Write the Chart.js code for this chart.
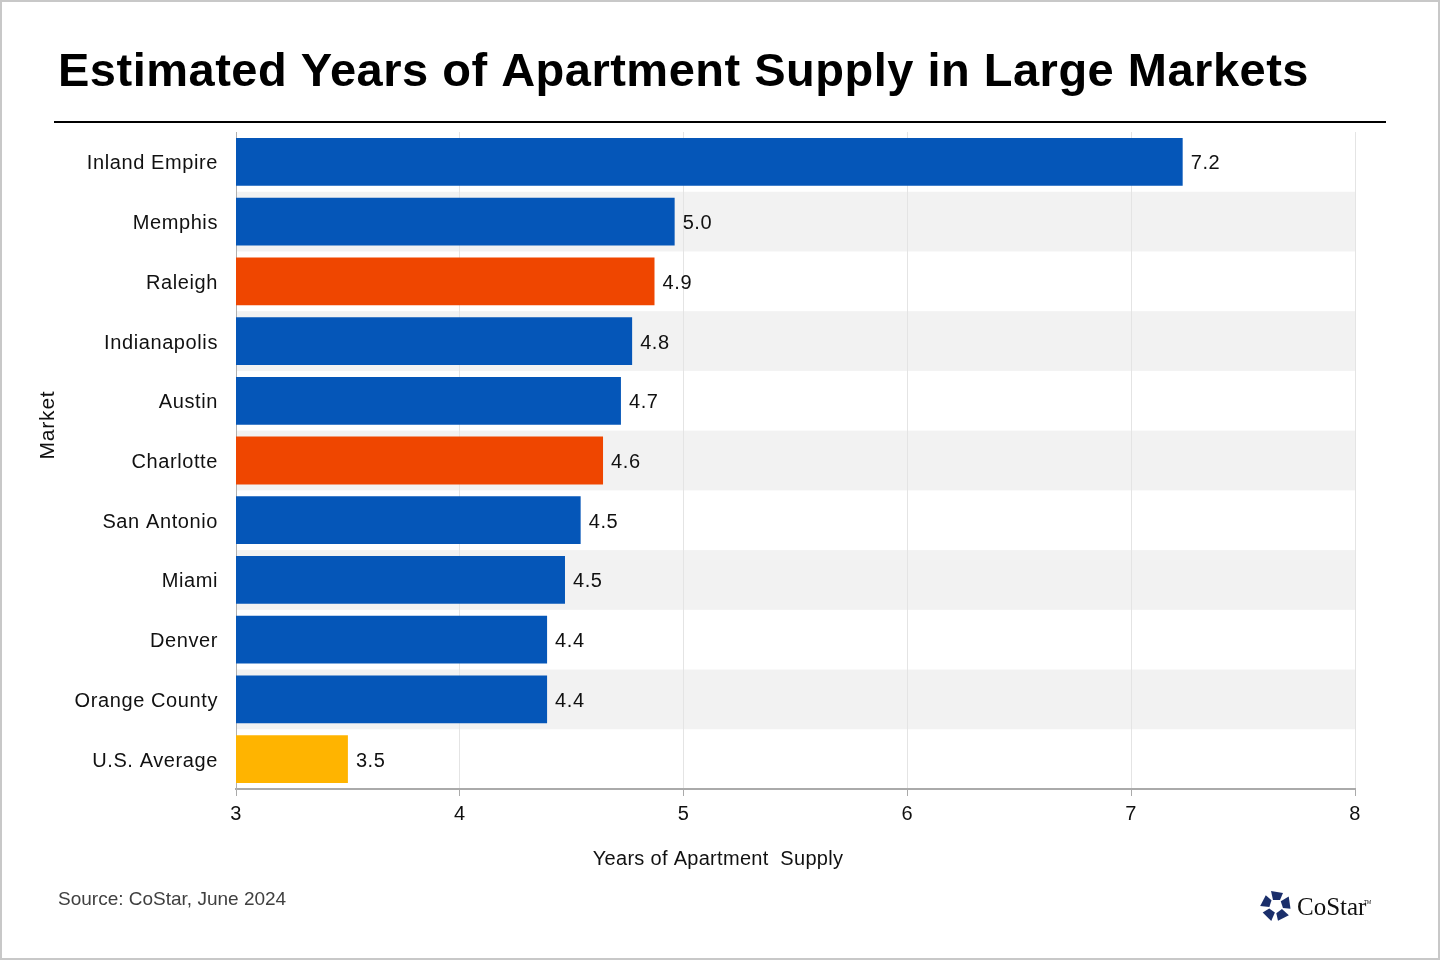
<!DOCTYPE html>
<html>
<head>
<meta charset="utf-8">
<script src="https://cdn.jsdelivr.net/npm/chart.js@4.4.1/dist/chart.umd.min.js"></script>
<style>
html,body{margin:0;padding:0;background:#fff;}
#wrap{width:1440px;height:960px;position:relative;}
canvas{display:block;}
</style>
</head>
<body>
<div id="wrap"><canvas id="c" width="1440" height="960"></canvas></div>
<script>
const markets = ["Inland Empire","Memphis","Raleigh","Indianapolis","Austin","Charlotte","San Antonio","Miami","Denver","Orange County","U.S. Average"];
const supplyYears = [7.23,4.96,4.87,4.77,4.72,4.64,4.54,4.47,4.39,4.39,3.5];
const barColors = ["#0556b8","#0556b8","#ef4600","#0556b8","#0556b8","#ef4600","#0556b8","#0556b8","#0556b8","#0556b8","#ffb400"];
const xTicks = [3,4,5,6,7,8];
const titleText = "Estimated Years of Apartment Supply in Large Markets";
const xTitle = "Years of Apartment  Supply";
const yTitle = "Market";
const sourceText = "Source: CoStar, June 2024";

const FONT = "'Liberation Sans', Arial, sans-serif";

const decor = {
  id: 'decor',
  beforeDraw(chart) {
    const ctx = chart.ctx;
    const ys = chart.scales.y, area = chart.chartArea;
    ctx.save();
    ctx.fillStyle = '#fff';
    ctx.fillRect(0, 0, chart.width, chart.height);
    const step = (area.bottom - area.top) / markets.length;
    ctx.fillStyle = '#f2f2f2';
    markets.forEach((m, i) => {
      if (i % 2 === 1) {
        const c = ys.getPixelForValue(i);
        ctx.fillRect(area.left, c - step / 2, area.right - area.left, step);
      }
    });
    ctx.restore();
    ctx.letterSpacing = '0.6px';
  },
  afterDatasetsDraw(chart) {
    const ctx = chart.ctx;
    const meta = chart.getDatasetMeta(0);
    ctx.save();
    ctx.font = "20px " + FONT;
    ctx.letterSpacing = '0.6px';
    ctx.fillStyle = '#111';
    ctx.textBaseline = 'middle';
    ctx.textAlign = 'left';
    meta.data.forEach((bar, i) => {
      ctx.fillText(supplyYears[i].toFixed(1), bar.x + 8, bar.y + 2);
    });
    ctx.restore();
  },
  afterDraw(chart) {
    const ctx = chart.ctx;
    ctx.save();
    ctx.letterSpacing = '0px';
    // outer border
    ctx.strokeStyle = '#c8c8c8';
    ctx.lineWidth = 2;
    ctx.strokeRect(1, 1, chart.width - 2, chart.height - 2);
    // title
    ctx.fillStyle = '#000';
    ctx.font = "bold 47px " + FONT;
    ctx.letterSpacing = '0.5px';
    ctx.textBaseline = 'alphabetic';
    ctx.textAlign = 'left';
    ctx.fillText(titleText, 58, 86);
    // rule
    ctx.fillStyle = '#000';
    ctx.fillRect(54, 121, 1332, 2);
    // axis titles
    ctx.font = "20px " + FONT;
    ctx.letterSpacing = '0.3px';
    ctx.fillStyle = '#111';
    ctx.textAlign = 'center';
    ctx.textBaseline = 'middle';
    ctx.fillText(xTitle, 718, 859);
    ctx.save();
    ctx.translate(48, 425);
    ctx.rotate(-Math.PI / 2);
    ctx.font = "21px " + FONT;
    ctx.letterSpacing = '0.8px';
    ctx.fillText(yTitle, 0, 0);
    ctx.restore();
    // source
    ctx.font = "19px " + FONT;
    ctx.letterSpacing = '0px';
    ctx.fillStyle = '#404040';
    ctx.textAlign = 'left';
    ctx.fillText(sourceText, 58, 900);
    // logo icon
    const cx = 1276, cy = 906;
    ctx.fillStyle = '#1b2f6b';
    for (let k = 0; k < 5; k++) {
      ctx.save();
      ctx.translate(cx, cy);
      ctx.rotate(k * 2 * Math.PI / 5);
      ctx.beginPath();
      ctx.moveTo(-5, -15);
      ctx.lineTo(7, -13);
      ctx.lineTo(4, -6);
      ctx.lineTo(-3, -6);
      ctx.closePath();
      ctx.fill();
      ctx.restore();
    }
    ctx.font = "25px 'Liberation Serif', 'DejaVu Serif', serif";
    ctx.fillStyle = '#111';
    ctx.textAlign = 'left';
    ctx.fillText("CoStar", 1297, 908);
    ctx.font = "5px " + FONT;
    ctx.fillText("TM", 1364, 903);
    ctx.restore();
  }
};

new Chart(document.getElementById('c'), {
  type: 'bar',
  data: {
    labels: markets,
    datasets: [{
      data: supplyYears,
      backgroundColor: barColors,
      borderWidth: 0,
      barPercentage: 0.8,
      categoryPercentage: 1.0
    }]
  },
  options: {
    indexAxis: 'y',
    responsive: false,
    animation: false,
    devicePixelRatio: 1,
    layout: { padding: { left: 0, right: 85, top: 132, bottom: 0 } },
    plugins: { legend: { display: false }, tooltip: { enabled: false }, title: { display: false } },
    scales: {
      x: {
        min: 3, max: 8,
        afterFit(s) { s.height = 171; },
        afterBuildTicks(s) { s.ticks = xTicks.map(v => ({ value: v })); },
        ticks: { color: '#111', font: { size: 20, family: FONT }, padding: 6 },
        grid: { color: '#e4e4e4', lineWidth: 1, tickColor: '#aaaaaa', tickLength: 7, drawTicks: true },
        border: { color: '#aaaaaa', width: 2 }
      },
      y: {
        afterFit(s) { s.width = 236; },
        ticks: { color: '#111', font: { size: 20, family: FONT }, padding: 18, labelOffset: 2 },
        grid: { display: false, drawTicks: false },
        border: { color: '#b0b0b0', width: 1 }
      }
    }
  },
  plugins: [decor]
});
</script>
</body>
</html>
